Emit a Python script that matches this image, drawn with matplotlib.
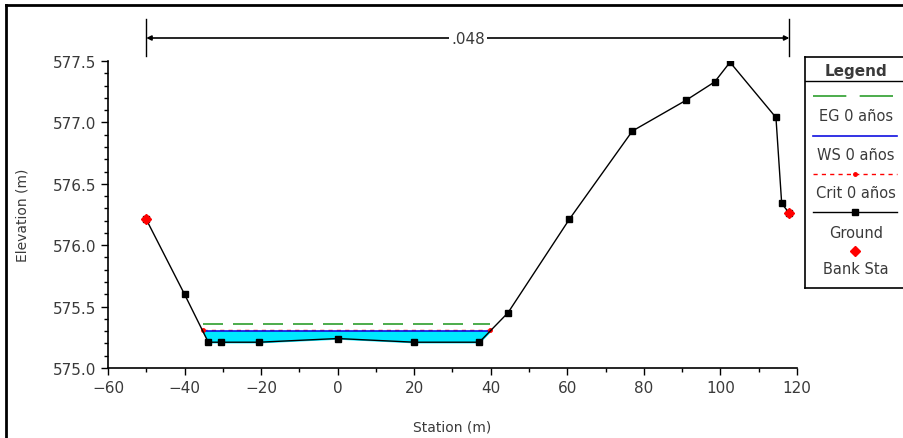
import numpy as np
import matplotlib
matplotlib.use("Agg")
import matplotlib.pyplot as plt
from matplotlib.lines import Line2D
from matplotlib.ticker import MultipleLocator, FormatStrFormatter
from matplotlib.transforms import blended_transform_factory

# ground profile (station, elevation)
station = [-50, -40, -33.8, -30.5, -20.5, 0, 20, 37, 44.5, 60.5, 77, 91, 98.5, 102.5, 114.5, 116, 118]
elevation = [576.21, 575.60, 575.21, 575.21, 575.21, 575.24, 575.21, 575.21, 575.45, 576.21,
             576.93, 577.18, 577.33, 577.49, 577.04, 576.34, 576.26]

bank_sta = [-50, 118]
bank_elev = [576.21, 576.26]

ws_elev = 575.30
eg_elev = 575.36
crit_elev = 575.31
n_value = ".048"

legend_labels = ["EG 0 años", "WS 0 años", "Crit 0 años", "Ground", "Bank Sta"]

text_col = "#3a3a3a"

fig = plt.figure(figsize=(9.04, 4.39), dpi=100)
ax = fig.add_axes([108 / 904, 70 / 439, 689 / 904, 307 / 439])

# water area
xs = np.linspace(-40, 45, 800)
g = np.interp(xs, station, elevation)
wet = g < ws_elev
ax.fill_between(xs, g, ws_elev, where=wet, color="#00e8ff", zorder=1, interpolate=True)
x_wet = xs[wet]
xl, xr = x_wet.min(), x_wet.max()

ax.plot([xl, xr], [eg_elev, eg_elev], color="#2e9e2e", lw=1.2, dashes=(12, 6), zorder=2)
ax.plot([xl, xr], [crit_elev, crit_elev], color="red", lw=1, dashes=(3, 3), zorder=2)
ax.plot([xl, xr], [crit_elev, crit_elev], "o", color="red", ms=2.5, zorder=4)
ax.plot([xl, xr], [ws_elev, ws_elev], color="#1010e0", lw=1.2, zorder=3)

ax.plot(station, elevation, color="black", lw=1, marker="s", ms=4.8, zorder=5)
ax.plot(bank_sta, bank_elev, "D", color="red", ms=5, zorder=6)

ax.set_xlim(-60, 120)
ax.set_ylim(575.0, 577.5)
ax.xaxis.set_major_locator(MultipleLocator(20))
ax.xaxis.set_minor_locator(MultipleLocator(10))
ax.yaxis.set_major_locator(MultipleLocator(0.5))
ax.yaxis.set_minor_locator(MultipleLocator(0.1))
ax.yaxis.set_major_formatter(FormatStrFormatter("%.1f"))
ax.tick_params(which="major", length=5, width=1, direction="out", labelsize=11, labelcolor=text_col)
ax.tick_params(which="minor", length=3, width=1, direction="out")
for s in ["top", "right"]:
    ax.spines[s].set_visible(False)
for s in ["left", "bottom"]:
    ax.spines[s].set_linewidth(1.2)

ax.set_xlabel("Station (m)", fontsize=10, color=text_col, labelpad=18)
ax.set_ylabel("Elevation (m)", fontsize=10, color=text_col, labelpad=17)

# n-value dimension line above the plot
trans = blended_transform_factory(ax.transData, fig.transFigure)
y_dim = (439 - 39) / 439
ax.annotate("", xy=(bank_sta[0], y_dim), xytext=(bank_sta[1], y_dim), xycoords=trans, textcoords=trans,
            arrowprops=dict(arrowstyle="<|-|>", color="black", lw=1.2, shrinkA=0, shrinkB=0,
                            mutation_scale=7), annotation_clip=False)
for b in bank_sta:
    ax.add_line(Line2D([b, b], [(439 - 20) / 439, (439 - 57) / 439], transform=trans,
                       color="black", lw=1, clip_on=False))
ax.text(np.mean(bank_sta), y_dim, n_value, transform=trans, ha="center", va="center",
        fontsize=11, color=text_col, bbox=dict(facecolor="white", edgecolor="none", pad=1.5))

# legend box drawn in pixel coords
lg = fig.add_axes([805 / 904, (439 - 289) / 439, 102 / 904, 231 / 439])
lg.set_xlim(805, 907)
lg.set_ylim(289, 58)
lg.set_xticks([])
lg.set_yticks([])
for s in lg.spines.values():
    s.set_linewidth(1.2)
lg.plot([805, 907], [82, 82], color="black", lw=1)
lg.text(856, 71, "Legend", ha="center", va="center", fontsize=11, fontweight="bold", color=text_col)
lx = [813, 897]
lg.plot(lx, [97, 97], color="#2e9e2e", lw=1.2, dashes=(20, 8))
lg.plot(lx, [137, 137], color="#1010e0", lw=1.2)
lg.plot(lx, [175, 175], color="red", lw=1, dashes=(3, 3))
lg.plot([855], [175], "o", color="red", ms=2.5)
lg.plot(lx, [213, 213], color="black", lw=1)
lg.plot([855], [213], "s", color="black", ms=4.8)
lg.plot([855], [252], "D", color="red", ms=5)
for lab, yy in zip(legend_labels, [116, 155, 193, 233, 270]):
    lg.text(856, yy, lab, ha="center", va="center", fontsize=10.5, color=text_col)

# outer frame (left and top edges)
fig.add_artist(Line2D([6 / 904, 6 / 904], [0, 1 - 6 / 439], transform=fig.transFigure, color="black", lw=2))
fig.add_artist(Line2D([6 / 904, 1], [1 - 6 / 439, 1 - 6 / 439], transform=fig.transFigure, color="black", lw=2))

fig.savefig("out.png", dpi=100)
